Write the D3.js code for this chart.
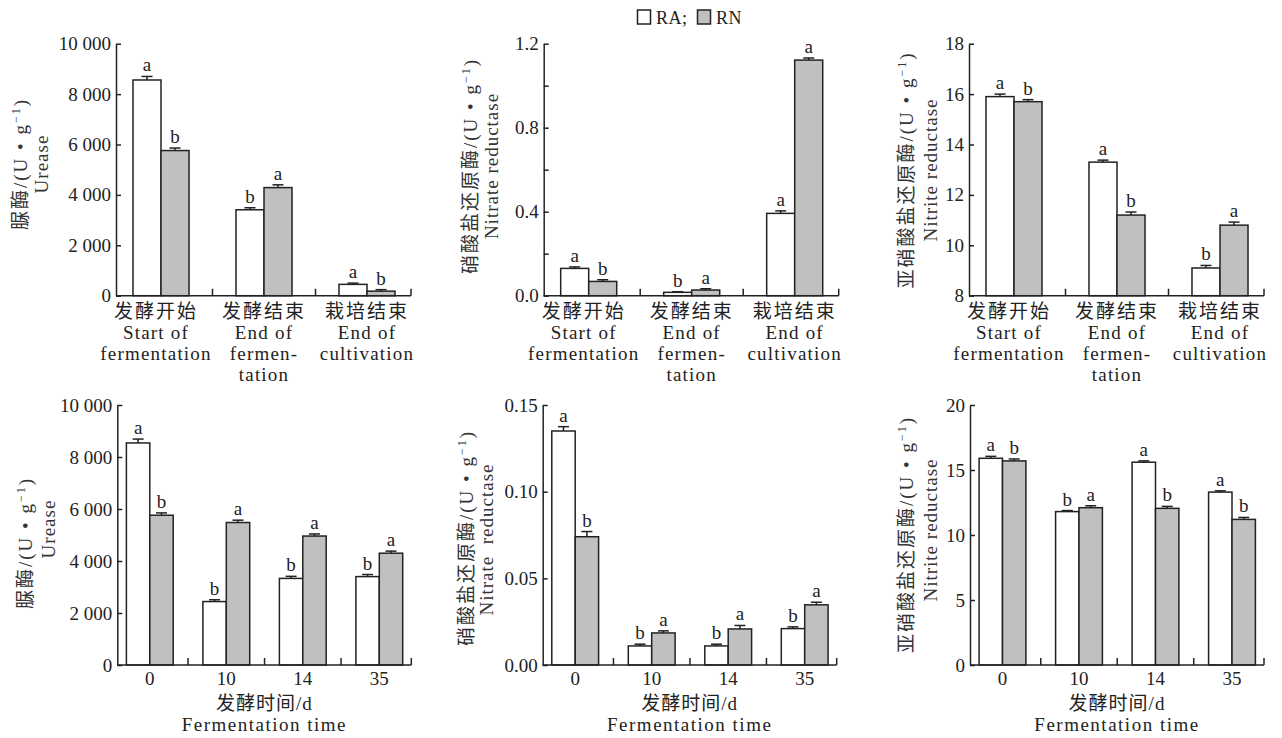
<!DOCTYPE html>
<html>
<head>
<meta charset="utf-8">
<script src="https://cdn.jsdelivr.net/npm/d3@7"></script>
<style>
body { margin: 0; background: #fff; }
text { font-family: "Liberation Serif", "Noto Sans CJK SC", serif; fill: #222; }
</style>
</head>
<body>
<svg id="chart" width="1282" height="738"></svg>
<script>
// categories
var stages = ["发酵开始", "发酵结束", "栽培结束"];
var stagesEn = [["Start of", "fermentation"], ["End of", "fermen-", "tation"], ["End of", "cultivation"]];
var days = ["0", "10", "14", "35"];

// urease by stage
var ureaseStageRA = [8560, 3410, 450];
var ureaseStageRAErr = [140, 80, 50];
var ureaseStageRN = [5760, 4290, 180];
var ureaseStageRNErr = [100, 110, 60];
var ureaseStageRASig = ["a", "b", "a"];
var ureaseStageRNSig = ["b", "a", "b"];

// nitrate reductase by stage
var nitrateStageRA = [0.13, 0.016, 0.392];
var nitrateStageRAErr = [0.007, 0.003, 0.012];
var nitrateStageRN = [0.068, 0.027, 1.122];
var nitrateStageRNErr = [0.008, 0.006, 0.01];
var nitrateStageRASig = ["a", "b", "a"];
var nitrateStageRNSig = ["b", "a", "a"];

// nitrite reductase by stage
var nitriteStageRA = [15.9, 13.3, 9.1];
var nitriteStageRAErr = [0.1, 0.08, 0.1];
var nitriteStageRN = [15.7, 11.2, 10.8];
var nitriteStageRNErr = [0.08, 0.12, 0.12];
var nitriteStageRASig = ["a", "a", "b"];
var nitriteStageRNSig = ["b", "b", "a"];

// urease by fermentation day
var ureaseDayRA = [8540, 2440, 3330, 3400];
var ureaseDayRAErr = [150, 70, 80, 80];
var ureaseDayRN = [5760, 5480, 4960, 4300];
var ureaseDayRNErr = [90, 90, 80, 80];
var ureaseDayRASig = ["a", "b", "b", "b"];
var ureaseDayRNSig = ["b", "a", "a", "a"];

// nitrate reductase by fermentation day
var nitrateDayRA = [0.135, 0.011, 0.011, 0.021];
var nitrateDayRAErr = [0.0025, 0.001, 0.001, 0.001];
var nitrateDayRN = [0.074, 0.0185, 0.0208, 0.0347];
var nitrateDayRNErr = [0.003, 0.0012, 0.002, 0.0015];
var nitrateDayRASig = ["a", "b", "b", "b"];
var nitrateDayRNSig = ["b", "a", "a", "a"];

// nitrite reductase by fermentation day
var nitriteDayRA = [15.9, 11.8, 15.6, 13.3];
var nitriteDayRAErr = [0.15, 0.08, 0.1, 0.1];
var nitriteDayRN = [15.7, 12.1, 12.05, 11.2];
var nitriteDayRNErr = [0.15, 0.15, 0.15, 0.15];
var nitriteDayRASig = ["a", "b", "a", "a"];
var nitriteDayRNSig = ["b", "a", "b", "b"];

var thousands = function(d) { return d3.format(",")(d).replace(/,/g, " "); };

var panels = [
  {row: 0, axisX: 116, cats: stages, ra: ureaseStageRA, raErr: ureaseStageRAErr, rn: ureaseStageRN, rnErr: ureaseStageRNErr,
   raSig: ureaseStageRASig, rnSig: ureaseStageRNSig, domain: [0, 10000], ticks: d3.range(0, 10001, 2000),
   fmt: thousands, cn: "脲酶", en: "Urease", cnX: 20, cnY: 164, enX: 41.7, enY: 164},
  {row: 0, axisX: 543.7, cats: stages, ra: nitrateStageRA, raErr: nitrateStageRAErr, rn: nitrateStageRN, rnErr: nitrateStageRNErr,
   raSig: nitrateStageRASig, rnSig: nitrateStageRNSig, domain: [0, 1.2], ticks: [0, 0.2, 0.4, 0.6, 0.8, 1.0, 1.2],
   fmt: function(d, i) { return i % 2 ? "" : d3.format(".1f")(d); }, cn: "硝酸盐还原酶", en: "Nitrate reductase",
   cnX: 470, cnY: 166, enX: 491.7, enY: 166},
  {row: 0, axisX: 969, cats: stages, ra: nitriteStageRA, raErr: nitriteStageRAErr, rn: nitriteStageRN, rnErr: nitriteStageRNErr,
   raSig: nitriteStageRASig, rnSig: nitriteStageRNSig, domain: [8, 18], ticks: d3.range(8, 19, 2),
   fmt: d3.format("d"), cn: "亚硝酸盐还原酶", en: "Nitrite reductase", cnX: 906.7, cnY: 170, enX: 930, enY: 170},
  {row: 1, axisX: 117.3, cats: days, ra: ureaseDayRA, raErr: ureaseDayRAErr, rn: ureaseDayRN, rnErr: ureaseDayRNErr,
   raSig: ureaseDayRASig, rnSig: ureaseDayRNSig, domain: [0, 10000], ticks: d3.range(0, 10001, 2000),
   fmt: thousands, cn: "脲酶", en: "Urease", cnX: 25, cnY: 543, enX: 48.3, enY: 529},
  {row: 1, axisX: 542.7, cats: days, ra: nitrateDayRA, raErr: nitrateDayRAErr, rn: nitrateDayRN, rnErr: nitrateDayRNErr,
   raSig: nitrateDayRASig, rnSig: nitrateDayRNSig, domain: [0, 0.15], ticks: [0, 0.05, 0.10, 0.15],
   fmt: d3.format(".2f"), cn: "硝酸盐还原酶", en: "Nitrate  reductase", cnX: 466.7, cnY: 538, enX: 486.7, enY: 539.5},
  {row: 1, axisX: 970, cats: days, ra: nitriteDayRA, raErr: nitriteDayRAErr, rn: nitriteDayRN, rnErr: nitriteDayRNErr,
   raSig: nitriteDayRASig, rnSig: nitriteDayRNSig, domain: [0, 20], ticks: d3.range(0, 21, 5),
   fmt: d3.format("d"), cn: "亚硝酸盐还原酶", en: "Nitrite reductase", cnX: 906.7, cnY: 534.5, enX: 930, enY: 530}
];

/* row layout */
var rows = [
  {top: 43.7, bottom: 295.7, start: -6.5, step: 103, barFrac: 0.272, axisLen: 295},
  {top: 405, bottom: 665, start: -5.75, step: 76.5, barFrac: 0.306, axisLen: 294}
];

var svg = d3.select("#chart");
var ink = "#222";
var gray = "#c0c0c0";

panels.forEach(function(p) {
  var r = rows[p.row];
  var g = svg.append("g");
  var n = p.cats.length;

  var x = d3.scaleBand()
    .domain(d3.range(n))
    .range([p.axisX + r.start, p.axisX + r.start + r.step * n])
    .padding(0);
  var bw = x.step() * r.barFrac;

  var y = d3.scaleLinear()
    .domain(p.domain)
    .range([r.bottom, r.top]);

  /* bars */
  var series = [
    {vals: p.ra, err: p.raErr, sig: p.raSig, fill: "#fff", off: -1},
    {vals: p.rn, err: p.rnErr, sig: p.rnSig, fill: gray, off: 0}
  ];

  series.forEach(function(s) {
    var sg = g.append("g");
    var cx = function(d, i) { return x(i) + x.bandwidth() / 2 + s.off * bw; };

    sg.selectAll("rect")
      .data(s.vals).enter()
      .append("rect")
      .attr("x", cx)
      .attr("y", d => y(d))
      .attr("width", bw)
      .attr("height", d => y(p.domain[0]) - y(d))
      .attr("fill", s.fill)
      .attr("stroke", ink)
      .attr("stroke-width", 1.5);

    // error bars
    sg.selectAll("line.err")
      .data(s.vals).enter()
      .append("line")
      .attr("x1", (d, i) => cx(d, i) + bw / 2)
      .attr("x2", (d, i) => cx(d, i) + bw / 2)
      .attr("y1", d => y(d))
      .attr("y2", (d, i) => y(d + s.err[i]))
      .attr("stroke", ink)
      .attr("stroke-width", 1.5);

    sg.selectAll("line.cap")
      .data(s.vals).enter()
      .append("line")
      .attr("x1", (d, i) => cx(d, i) + bw / 2 - 5.5)
      .attr("x2", (d, i) => cx(d, i) + bw / 2 + 5.5)
      .attr("y1", (d, i) => y(d + s.err[i]))
      .attr("y2", (d, i) => y(d + s.err[i]))
      .attr("stroke", ink)
      .attr("stroke-width", 1.5);

    // significance letters
    sg.selectAll("text")
      .data(s.vals).enter()
      .append("text")
      .attr("x", (d, i) => cx(d, i) + bw / 2)
      .attr("y", (d, i) => y(d + s.err[i]) - 5)
      .attr("text-anchor", "middle")
      .style("font-size", "19px")
      .text((d, i) => s.sig[i]);
  });

  /* y axis */
  var yAxis = d3.axisLeft(y)
    .tickValues(p.ticks)
    .tickFormat(p.fmt)
    .tickSizeInner(-5)
    .tickSizeOuter(0)
    .tickPadding(5);

  var ya = g.append("g")
    .attr("transform", `translate(${p.axisX},0)`)
    .call(yAxis);
  ya.select(".domain").attr("stroke", ink).attr("stroke-width", 1.5);
  ya.selectAll(".tick line").attr("stroke", ink).attr("stroke-width", 1.5);
  ya.selectAll(".tick text")
    .attr("fill", ink)
    .style("font-family", "Liberation Serif")
    .style("font-size", "19px");

  /* x axis */
  var xEnd = p.axisX + r.axisLen;
  g.append("line")
    .attr("x1", p.axisX).attr("x2", xEnd)
    .attr("y1", r.bottom).attr("y2", r.bottom)
    .attr("stroke", ink).attr("stroke-width", 1.5);

  var tickXs = d3.range(1, n).map(i => x(i)).concat([xEnd]);
  g.selectAll("line.xtick")
    .data(tickXs).enter()
    .append("line")
    .attr("x1", d => d).attr("x2", d => d)
    .attr("y1", r.bottom).attr("y2", r.bottom - 7)
    .attr("stroke", ink).attr("stroke-width", 1.5);

  if (p.row === 0) {
    var lab = g.selectAll("g.cat")
      .data(p.cats).enter()
      .append("g")
      .attr("transform", (d, i) => `translate(${x(i) + x.bandwidth() / 2 - (i === 0 ? 5 : 0)},0)`);
    lab.append("text")
      .attr("y", r.bottom + 22)
      .attr("text-anchor", "middle")
      .style("font-size", "19px")
      .style("letter-spacing", "2px")
      .text(d => d);
    lab.each(function(d, i) {
      d3.select(this).selectAll("text.en")
        .data(stagesEn[i]).enter()
        .append("text")
        .attr("y", (t, j) => r.bottom + 43 + j * 21)
        .attr("text-anchor", "middle")
        .style("font-size", "19px")
        .style("letter-spacing", "1.2px")
        .text(t => t);
    });
  } else {
    g.selectAll("text.day")
      .data(p.cats).enter()
      .append("text")
      .attr("x", (d, i) => x(i) + x.bandwidth() / 2)
      .attr("y", r.bottom + 20)
      .attr("text-anchor", "middle")
      .style("font-size", "19px")
      .text(d => d);

    var mid = (p.axisX + xEnd) / 2;
    g.append("text")
      .attr("x", mid).attr("y", r.bottom + 45)
      .attr("text-anchor", "middle")
      .style("font-size", "19px")
      .style("letter-spacing", "1px")
      .text("发酵时间/d");
    g.append("text")
      .attr("x", mid).attr("y", r.bottom + 66)
      .attr("text-anchor", "middle")
      .style("font-size", "19px")
      .style("letter-spacing", "1.5px")
      .text("Fermentation time");
  }

  /* y labels */
  var cnLabel = g.append("text")
    .attr("transform", `translate(${p.cnX},${p.cnY}) rotate(-90)`)
    .attr("text-anchor", "middle")
    .attr("dy", "0.35em")
    .style("font-size", "19px")
    .style("letter-spacing", "2px")
    .style("fill", "#333");
  cnLabel.append("tspan").text(p.cn + "/(U • g");
  cnLabel.append("tspan").attr("dy", -7).style("font-size", "12px").text("−1");
  cnLabel.append("tspan").attr("dy", 7).text(")");

  g.append("text")
    .attr("transform", `translate(${p.enX},${p.enY}) rotate(-90)`)
    .attr("text-anchor", "middle")
    .attr("dy", "0.35em")
    .style("font-size", "19px")
    .style("letter-spacing", "1px")
    .style("fill", "#333")
    .style("white-space", "pre")
    .text(p.en);
});

/* legend */
var legend = svg.append("g");
legend.append("rect")
  .attr("x", 637.5).attr("y", 10).attr("width", 13).attr("height", 14)
  .attr("fill", "#fff").attr("stroke", ink).attr("stroke-width", 1.5);
legend.append("text")
  .attr("x", 656).attr("y", 23.5)
  .style("font-size", "18px")
  .style("letter-spacing", "0.5px")
  .text("RA;");
legend.append("rect")
  .attr("x", 697.5).attr("y", 10).attr("width", 13).attr("height", 14)
  .attr("fill", gray).attr("stroke", ink).attr("stroke-width", 1.5);
legend.append("text")
  .attr("x", 716).attr("y", 23.5)
  .style("font-size", "18px")
  .style("letter-spacing", "0.5px")
  .text("RN");
</script>
</body>
</html>
